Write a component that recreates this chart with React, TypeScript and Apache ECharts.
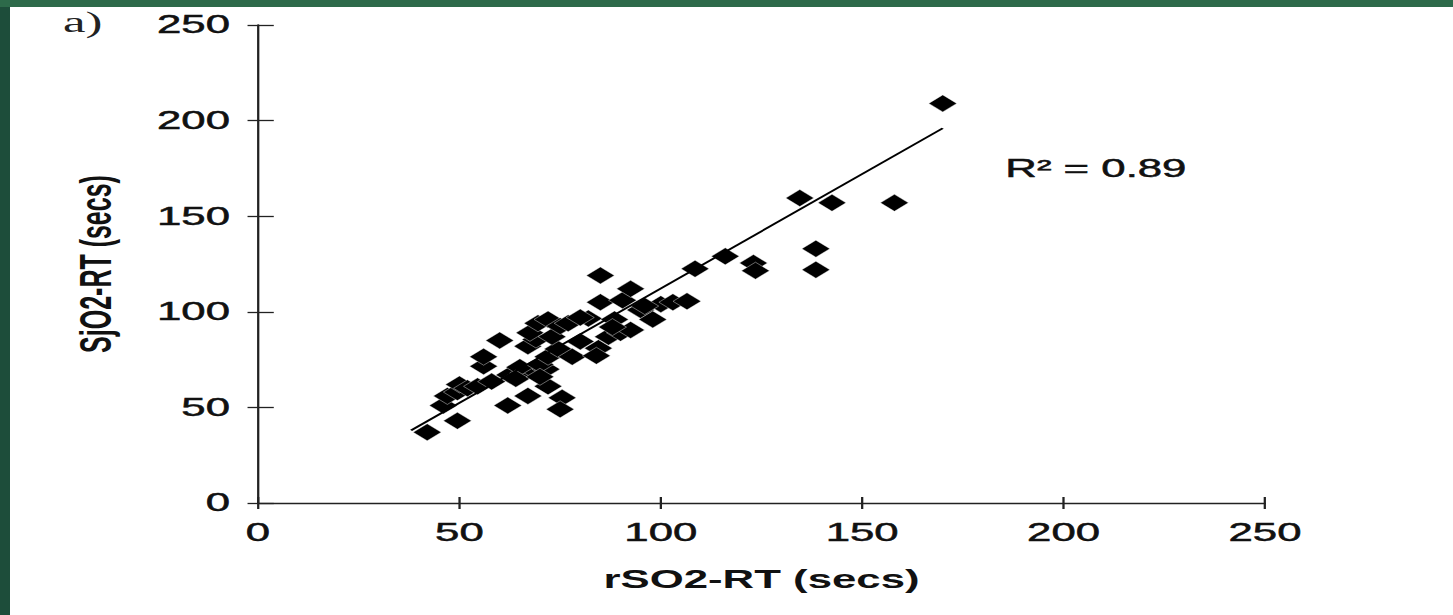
import React, { useEffect, useRef } from "react";
import * as echarts from "echarts";

// rSO2-RT (secs) values
const rso2 = [
  42, 49.5, 46, 47, 49.5, 50, 52, 54.5, 58, 62, 67, 72, 75.5, 75, 62.5, 66, 68, 71.5, 65, 70,
  56, 56, 60, 67, 69, 67.5, 72, 74.5, 78, 73, 69.5, 72, 75, 77, 80, 84.5, 84, 82, 85, 85,
  87, 88.5, 90, 92.5, 90.5, 92.5, 95, 98, 100, 103, 106.5, 108.5, 116, 123, 123.5, 134.5,
  138.5, 138.5, 142.5, 158, 170, 64, 70, 80, 88, 96,
];
// SjO2-RT (secs) values
const sjo2 = [
  37, 43, 51, 56, 58, 62, 60, 61, 63.5, 51, 56, 61, 55, 49, 67, 68, 70, 70, 71, 72.5,
  71.5, 76.5, 85, 82, 85.5, 89, 76.5, 80.5, 76.5, 87, 94, 96, 92.5, 94, 84.5, 81, 77, 96.5, 119, 105,
  87, 96, 89, 90.5, 106, 112, 101, 96, 104, 105, 105.5, 122.5, 129, 125.5, 121.5, 159.5,
  133, 122, 157, 157, 209, 65, 66, 97, 92, 103,
];
// fitted trend line end points
const trendX = [38, 170];
const trendY = [38, 196];

const rLabel = "R\u00b2 = 0.89";
const panelLabel = "a)";
const xName = "rSO2-RT (secs)";
const yName = "SjO2-RT (secs)";

const PAGE_W = 1453;
const PAGE_H = 615;
const INNER_W = 830;
const SX = PAGE_W / INNER_W;

export default function App() {
  const ref = useRef<HTMLDivElement>(null);
  useEffect(() => {
    if (!ref.current) return;
    const chart = echarts.init(ref.current, null, { renderer: "svg" });
    const font = "'Liberation Sans', Arial, Helvetica, sans-serif";
    const ink = "#111";
    const tickLabel = {
      color: ink,
      fontSize: 25,
      fontFamily: font,
      textBorderColor: ink,
      textBorderWidth: 0.5,
    };
    const base = {
      type: "value",
      min: 0,
      max: 250,
      interval: 50,
      splitLine: { show: false },
    };
    const lineStyle = { color: "#222", width: 1.3 };
    chart.setOption({
      animation: false,
      backgroundColor: "transparent",
      grid: { left: 147.4, right: 107.4, top: 25, bottom: 112, containLabel: false },
      xAxis: [
        {
          ...base,
          position: "bottom",
          axisLine: { show: true, onZero: false, lineStyle },
          axisTick: { show: true, length: 6, lineStyle },
          axisLabel: { ...tickLabel, margin: 17 },
          name: xName,
          nameLocation: "middle",
          nameGap: 64,
          nameTextStyle: { color: ink, fontSize: 25, fontWeight: "bold", fontFamily: font },
        },
        {
          ...base,
          position: "bottom",
          offset: 0,
          axisLine: { show: false, onZero: false },
          axisTick: { show: true, inside: true, length: 6, lineStyle },
          axisLabel: { show: false },
        },
      ],
      yAxis: [
        {
          ...base,
          position: "left",
          axisLine: { show: true, onZero: false, lineStyle },
          axisTick: { show: true, length: 6, lineStyle },
          axisLabel: { ...tickLabel, margin: 16 },
          name: yName,
          nameLocation: "middle",
          nameGap: 80,
          nameTextStyle: { color: ink, fontSize: 25, fontWeight: "bold", fontFamily: font },
        },
        {
          ...base,
          position: "left",
          offset: 0,
          axisLine: { show: false, onZero: false },
          axisTick: { show: true, inside: true, length: 9, lineStyle },
          axisLabel: { show: false },
        },
      ],
      series: [
        {
          type: "scatter",
          xAxisIndex: 0,
          yAxisIndex: 0,
          data: rso2.map((x, i) => [x, sjo2[i]]),
          symbol: "diamond",
          symbolSize: [16, 17],
          itemStyle: { color: "#000", borderColor: "#fff", borderWidth: 0.3, opacity: 1 },
          z: 2,
        },
        {
          type: "line",
          xAxisIndex: 0,
          yAxisIndex: 0,
          data: trendX.map((x, i) => [x, trendY[i]]),
          symbol: "none",
          lineStyle: { color: "#000", width: 1.6 },
          z: 3,
        },
      ],
      graphic: [
        {
          type: "text",
          left: 574,
          top: 156,
          style: {
            text: rLabel,
            fill: ink,
            fontSize: 25,
            fontFamily: font,
            stroke: ink,
            lineWidth: 0.5,
          },
        },
        {
          type: "text",
          left: 36,
          top: 8,
          style: {
            text: panelLabel,
            fill: "#222",
            fontSize: 29,
            fontFamily: "'Liberation Serif', 'Times New Roman', serif",
          },
        },
      ],
    });
    return () => chart.dispose();
  }, []);

  return (
    <div
      style={{
        position: "absolute",
        left: 0,
        top: 0,
        width: PAGE_W,
        height: PAGE_H,
        background: "#1d4d3a",
        overflow: "hidden",
      }}
    >
      <div style={{ position: "absolute", left: 0, top: 0, width: PAGE_W, height: 7, background: "#2d6a4a" }} />
      <div style={{ position: "absolute", left: 10, top: 7, right: 0, bottom: 0, background: "#ffffff" }} />
      <div
        ref={ref}
        style={{
          position: "absolute",
          left: 0,
          top: 0,
          width: INNER_W,
          height: PAGE_H,
          transform: `scaleX(${SX})`,
          transformOrigin: "0 0",
        }}
      />
    </div>
  );
}
